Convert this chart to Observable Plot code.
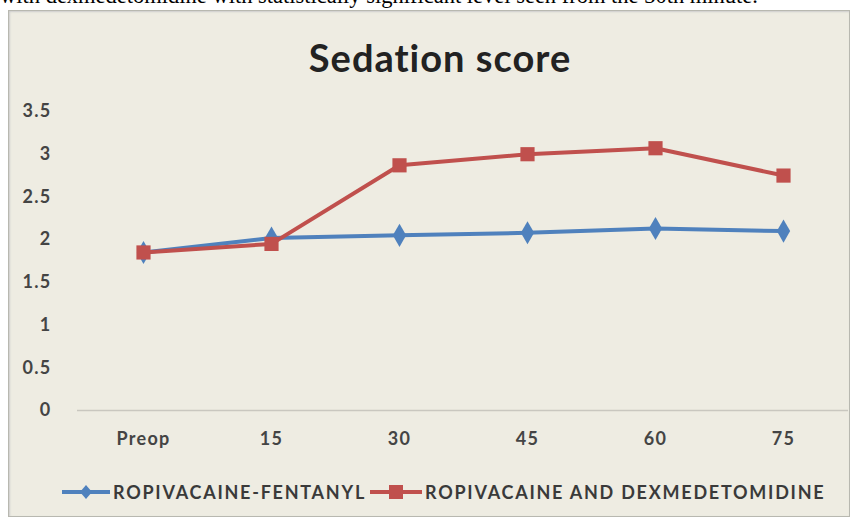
<!DOCTYPE html>
<html>
<head>
<meta charset="utf-8">
<script src="https://cdn.jsdelivr.net/npm/d3@7"></script>
<script src="https://cdn.jsdelivr.net/npm/@observablehq/plot@0.6"></script>
<style>
  html, body { margin: 0; padding: 0; background: #fff; }
  #page { position: relative; width: 854px; height: 521px; overflow: hidden; }
  #caption { position: absolute; left: 0; top: -17px; font-family: "Liberation Serif", serif; font-size: 22.5px; white-space: nowrap; color: #000; }
  #box { position: absolute; left: 8px; top: 10px; width: 840px; height: 505px; background: #eeece2; border: 1px solid #b8b8b0; box-shadow: inset 1px 1px 2px #ccc; }
  #title { position: absolute; left: 0; width: 880px; top: 34px; text-align: center; font-family: Lato, "Open Sans", sans-serif; font-weight: bold; font-size: 38px; letter-spacing: 1px; color: #222; }
  #chart { position: absolute; left: 0; top: 90px; }
  #legend { position: absolute; left: 62px; top: 481px; display: flex; align-items: center; font-family: Lato, sans-serif; font-weight: bold; font-size: 18px; letter-spacing: 1.75px; color: #3a3a3a; }
  .item { display: flex; align-items: center; margin-right: 4px; }
  .item svg { margin-right: 3px; }
  #chart svg text { letter-spacing: 1.3px; }
</style>
</head>
<body>
<div id="page">
  <div id="caption">with dexmedetomidine with statistically significant level seen from the 30th minute.</div>
  <div id="box"></div>
  <div id="title">Sedation score</div>
  <div id="chart"></div>
  <div id="legend"></div>
</div>
<script>
const times = ["Preop", "15", "30", "45", "60", "75"];
const seriesNames = ["ROPIVACAINE-FENTANYL", "ROPIVACAINE AND DEXMEDETOMIDINE"];
const fentanyl = [1.85, 2.02, 2.05, 2.08, 2.13, 2.10];
const dexmed = [1.85, 1.95, 2.87, 3.00, 3.07, 2.75];
const yTicks = [0, 0.5, 1, 1.5, 2, 2.5, 3, 3.5];
const colors = ["#4f81bd", "#c0504d"];
const symbols = ["diamond", "square"];

const data = [];
[fentanyl, dexmed].forEach((vals, s) => {
  vals.forEach((v, i) => data.push({ time: times[i], value: v, series: seriesNames[s] }));
});

const chart = Plot.plot({
  width: 854,
  height: 365,
  marginLeft: 77,
  marginRight: 6,
  marginTop: 21,
  marginBottom: 45,
  style: { background: "transparent", fontFamily: "Lato, sans-serif", fontWeight: "bold", fontSize: "18px", color: "#444" },
  x: { domain: times, type: "point", padding: 0.5, label: null },
  y: { domain: [0, 3.5], label: null },
  color: { domain: seriesNames, range: colors },
  symbol: { domain: seriesNames, range: symbols },
  marks: [
    Plot.ruleY([0], { stroke: "#c9c7bf", strokeWidth: 1.5 }),
    Plot.axisY({ ticks: yTicks, tickSize: 0, tickPadding: 26, tickFormat: d => String(d), fill: "#444", fontSize: 18 }),
    Plot.axisX({ tickSize: 0, tickPadding: 22, fill: "#444", fontSize: 18 }),
    Plot.line(data.filter(d => d.series === seriesNames[0]), { x: "time", y: "value", stroke: colors[0], strokeWidth: 4 }),
    Plot.dot(data.filter(d => d.series === seriesNames[0]), { x: "time", y: "value", symbol: "diamond", r: 7, fill: colors[0], stroke: "none" }),
    Plot.line(data.filter(d => d.series === seriesNames[1]), { x: "time", y: "value", stroke: colors[1], strokeWidth: 4 }),
    Plot.dot(data.filter(d => d.series === seriesNames[1]), { x: "time", y: "value", symbol: "square", r: 8, fill: colors[1], stroke: "none" })
  ]
});
document.getElementById("chart").appendChild(chart);

const legend = document.getElementById("legend");
seriesNames.forEach((name, i) => {
  const item = document.createElement("div");
  item.className = "item";
  const w = i === 0 ? 48 : 52;
  const c = w / 2;
  const sym = i === 0
    ? `<path d="M${c},4 L${c + 6},11 L${c},18 L${c - 6},11 Z" fill="${colors[0]}"/>`
    : `<rect x="${c - 7}" y="4" width="14" height="14" fill="${colors[1]}"/>`;
  item.innerHTML = `<svg width="${w}" height="22"><line x1="0" x2="${w}" y1="11" y2="11" stroke="${colors[i]}" stroke-width="4"/>${sym}</svg><span>${name}</span>`;
  legend.appendChild(item);
});
</script>
</body>
</html>
